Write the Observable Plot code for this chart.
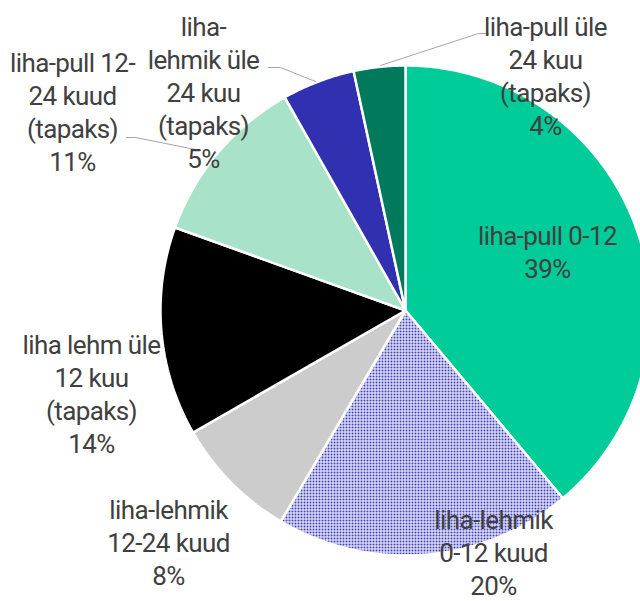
<!DOCTYPE html>
<html><head><meta charset="utf-8">
<script src="https://cdn.jsdelivr.net/npm/d3@7"></script>
<script src="https://cdn.jsdelivr.net/npm/@observablehq/plot@0.6"></script>
<style>
html,body{margin:0;padding:0;background:#fff;overflow:hidden}
#chart svg text{letter-spacing:-0.6px}
</style></head><body><div id="chart"></div>
<script>
// ---- data ----
const categories = ["liha-pull 0-12", "liha-lehmik 0-12 kuud", "liha-lehmik 12-24 kuud", "liha lehm üle 12 kuu (tapaks)", "liha-pull 12-24 kuud (tapaks)", "liha-lehmik üle 24 kuu (tapaks)", "liha-pull üle 24 kuu (tapaks)"];
const shares = [38.9, 19.6, 8.2, 13.8, 11.3, 4.8, 3.4];
const pctLabels = ["39%", "20%", "8%", "14%", "11%", "5%", "4%"];
const labelTexts = ["liha-pull 0-12", "liha-lehmik\n0-12 kuud", "liha-lehmik\n12-24 kuud", "liha lehm üle\n12 kuu\n(tapaks)", "liha-pull 12-\n24 kuud\n(tapaks)", "liha-\nlehmik üle\n24 kuu\n(tapaks)", "liha-pull üle\n24 kuu\n(tapaks)"];
const colors = ["#00CC99", "url(#dots)", "#CCCCCC", "#000000", "#A8E2C8", "#3030B0", "#007A5A"];

// ---- layout (pixel units, centre of pie at origin, y up) ----
const R = 245;
const labelPos = [[142, 60], [88, -241], [-237, -231], [-314, -82], [-333, 200], [-202, 219], [140, 236]];
const leaders = [
  [[-279, 173], [-270, 173], [-205, 160]],
  [[-137, 243], [-125, 243], [-90, 229]],
  [[83, 277], [73, 277], [-25, 245]]
];

const pie = d3.pie().sort(null).startAngle(0).endAngle(2 * Math.PI)(shares);
const slices = pie.map((p, i) => {
  const n = Math.max(2, Math.ceil((p.endAngle - p.startAngle) * 180 / Math.PI * 2));
  const pts = [{x: 0, y: 0}];
  for (let k = 0; k <= n; k++) {
    const a = p.startAngle + (p.endAngle - p.startAngle) * k / n;
    pts.push({x: R * Math.sin(a), y: R * Math.cos(a)});
  }
  pts.push({x: 0, y: 0});
  return {pts, color: colors[i], name: categories[i]};
});

const labels = categories.map((c, i) => ({
  x: labelPos[i][0], y: labelPos[i][1], text: labelTexts[i] + "\n" + pctLabels[i]
}));

const leaderPts = leaders.flatMap((l, j) => l.map(([x, y]) => ({x, y, id: j})));

const chart = Plot.plot({
  width: 640, height: 601, margin: 0,
  x: {domain: [-405, 235], axis: null},
  y: {domain: [-291, 310], axis: null},
  style: {background: "white"},
  marks: [
    ...slices.map(s => Plot.line(s.pts, {x: "x", y: "y", fill: s.color, stroke: "white", strokeWidth: 2.5, strokeLinejoin: "miter", curve: "linear"})),
    Plot.line(leaderPts, {x: "x", y: "y", z: "id", stroke: "#A6A6A6", strokeWidth: 1}),
    Plot.text(labels, {x: "x", y: "y", text: "text", fontSize: 26, fontFamily: "Roboto, sans-serif", fill: "#404040", lineHeight: 1.27, textAnchor: "middle"})
  ]
});

const defs = d3.select(chart).insert("defs", ":first-child");
const pat = defs.append("pattern").attr("id", "dots").attr("patternUnits", "userSpaceOnUse").attr("width", 3).attr("height", 3);
pat.append("rect").attr("width", 3).attr("height", 3).attr("fill", "#ffffff");
pat.append("rect").attr("x", 0).attr("y", 0).attr("width", 2).attr("height", 2).attr("fill", "#4242C2");

document.getElementById("chart").appendChild(chart);
</script>
</body></html>
